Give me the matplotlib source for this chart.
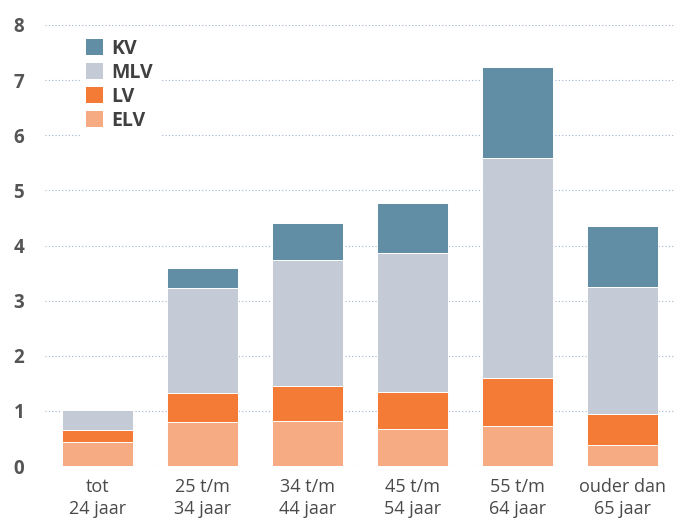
import numpy as np
import matplotlib.pyplot as plt
from matplotlib.patches import Patch

categories = ["tot\n24 jaar", "25 t/m\n34 jaar", "34 t/m\n44 jaar",
              "45 t/m\n54 jaar", "55 t/m\n64 jaar", "ouder dan\n65 jaar"]
elv = [0.43, 0.79, 0.82, 0.68, 0.73, 0.38]
lv = [0.22, 0.53, 0.64, 0.67, 0.86, 0.57]
mlv = [0.36, 1.90, 2.28, 2.52, 3.99, 2.30]
kv = [0.00, 0.37, 0.66, 0.90, 1.66, 1.10]

series = [("ELV", elv, "#f6ab83"), ("LV", lv, "#f37b35"),
          ("MLV", mlv, "#c4cbd6"), ("KV", kv, "#618da5")]

plt.rcParams['font.family'] = ['Open Sans', 'DejaVu Sans']

fig = plt.figure(figsize=(6.75, 5.21), dpi=100)
ax = fig.add_axes([45 / 675, 55 / 521, 630 / 675, 441 / 521])

x = np.arange(len(categories))
bottom = np.zeros(len(categories))
for name, vals, color in series:
    ax.bar(x, vals, width=0.685, bottom=bottom, color=color,
           edgecolor="white", linewidth=0.7, zorder=3)
    bottom += np.array(vals)

ax.set_xlim(-0.5, 5.5)
ax.set_ylim(0, 8)
ax.set_yticks(range(0, 9))
ax.set_xticks(x)
ax.set_xticklabels(categories, fontsize=13, color="#4a4a4a", linespacing=1.25)
for lab in ax.get_yticklabels():
    lab.set_fontweight("bold")
ax.tick_params(axis="y", length=0, pad=15, labelsize=13.5, labelcolor="#555555")
ax.tick_params(axis="x", length=0, pad=9)

ax.yaxis.grid(True, linestyle=(0, (1, 2)), color="#a3b4cc", linewidth=0.8, zorder=0)
ax.set_axisbelow(True)
for s in ax.spines.values():
    s.set_visible(False)

handles = [Patch(facecolor=c, edgecolor="none", label=n) for n, _, c in series[::-1]]
leg = ax.legend(handles=handles, loc="upper left",
                bbox_to_anchor=(80 / 675, 1 - 33 / 521), bbox_transform=fig.transFigure,
                frameon=True, fancybox=False, framealpha=1, edgecolor="white",
                fontsize=14, handlelength=0.86, handleheight=0.86,
                handletextpad=0.45, labelspacing=0.2, borderpad=0.3, borderaxespad=0)
for t in leg.get_texts():
    t.set_fontweight("bold")
    t.set_color("#404040")
leg.set_zorder(5)

fig.savefig("out.png", dpi=100)
